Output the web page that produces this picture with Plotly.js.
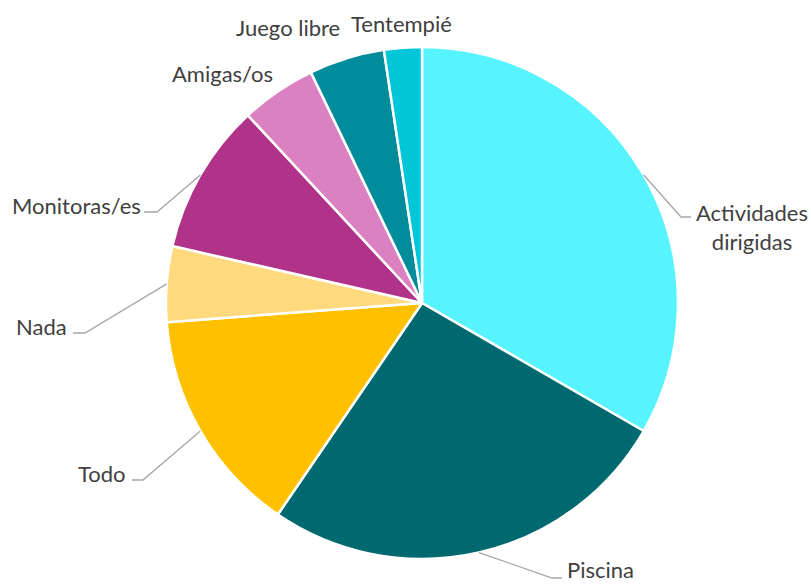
<!DOCTYPE html>
<html>
<head>
<meta charset="utf-8">
<script src="https://cdn.plot.ly/plotly-3.0.1.min.js"></script>
<style>html,body{margin:0;padding:0;background:#fff;}#chart{width:811px;height:584px;}</style>
</head>
<body>
<div id="chart"></div>
<script>
// Data
const categories = ["Actividades dirigidas", "Piscina", "Todo", "Nada", "Monitoras/es", "Amigas/os", "Juego libre", "Tentempié"];
const values = [14, 11, 6, 2, 4, 2, 2, 1];
const labelText = ["Actividades<br>dirigidas", "Piscina", "Todo", "Nada", "Monitoras/es", "Amigas/os", "Juego libre", "Tentempié"];
const colors = ["#57F4FF", "#006970", "#FFC000", "#FFD97D", "#B03389", "#DB81C2", "#008C9A", "#00C6D8"];

// Layout constants (pixels)
const W = 811, H = 584;
const CX = 422, CY = 303, R = 256;
const px = x => x / W;
const py = y => 1 - y / H;

// Label placement (pixels): text anchor, and leader elbow/end (null = no leader)
const labelPos = [
  {x: 694, y: 227, xa: "left", elbow: [681, 217], end: [691, 217]},
  {x: 565, y: 569, xa: "left", elbow: [552, 578], end: [562, 578]},
  {x: 128, y: 473, xa: "right", elbow: [143, 480], end: [132, 480]},
  {x: 69, y: 326, xa: "right", elbow: [85, 333], end: [73, 333]},
  {x: 143, y: 205, xa: "right", elbow: [157, 212], end: [144, 212]},
  {x: 222, y: 73, xa: "center", elbow: null},
  {x: 288, y: 28, xa: "center", elbow: null},
  {x: 401, y: 24, xa: "center", elbow: null}
];

const total = values.reduce((a, b) => a + b, 0);
let cum = 0;
const shapes = [];
const annotations = [];
values.forEach((v, i) => {
  const mid = (cum + v / 2) / total * 2 * Math.PI;
  cum += v;
  const sx = CX + R * Math.sin(mid), sy = CY - R * Math.cos(mid);
  const lp = labelPos[i];
  if (lp.elbow) {
    shapes.push({
      type: "path", xref: "paper", yref: "paper",
      path: `M ${px(sx)} ${py(sy)} L ${px(lp.elbow[0])} ${py(lp.elbow[1])} L ${px(lp.end[0])} ${py(lp.end[1])}`,
      line: {color: "#A6A6A6", width: 1.3}
    });
  }
  annotations.push({
    text: labelText[i], xref: "paper", yref: "paper",
    x: px(lp.x), y: py(lp.y), xanchor: lp.xa, yanchor: "middle",
    align: "center", showarrow: false,
    font: {family: "Lato, 'Open Sans', sans-serif", size: 22, color: "#404040"}
  });
});

const trace = {
  type: "pie",
  labels: categories,
  values: values,
  sort: false,
  direction: "clockwise",
  rotation: 0,
  textinfo: "none",
  hoverinfo: "label+value+percent",
  marker: {colors: colors, line: {color: "#FFFFFF", width: 2.5}},
  domain: {x: [(CX - R) / W, (CX + R) / W], y: [(H - CY - R) / H, (H - CY + R) / H]},
  showlegend: false
};

const layout = {
  width: W, height: H,
  margin: {l: 0, r: 0, t: 0, b: 0},
  paper_bgcolor: "#FFFFFF",
  plot_bgcolor: "#FFFFFF",
  showlegend: false,
  shapes: shapes,
  annotations: annotations
};

Plotly.newPlot("chart", [trace], layout, {displayModeBar: false, staticPlot: true});
</script>
</body>
</html>
